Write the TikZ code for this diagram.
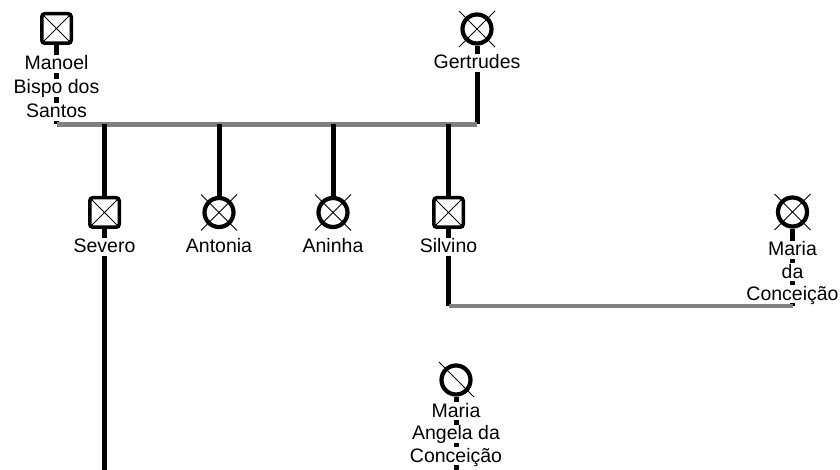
\documentclass[tikz,border=0pt]{standalone}
\usepackage{fontspec}
\setmainfont{Liberation Sans}
\usetikzlibrary{backgrounds}
\begin{document}
\begin{tikzpicture}[x=1pt,y=-1pt,
  kin/.style={line width=5pt, black},
  marr/.style={line width=4.6pt, color=gray},
  male/.style={draw, fill=white, line width=3.5pt, rounded corners=3pt, minimum size=29.5pt, inner sep=0pt,
    path picture={\draw[line width=1pt] (path picture bounding box.south west) -- (path picture bounding box.north east)
      (path picture bounding box.north west) -- (path picture bounding box.south east);}},
  female/.style={draw, fill=white, circle, line width=4.2pt, minimum size=29pt, inner sep=0pt},
  xline/.style={line width=1pt},
  lbl/.style={fill=white, anchor=base, inner xsep=1pt, inner ysep=0pt, text height=15pt, text depth=3pt,
    font=\fontsize{19.5pt}{24pt}\selectfont}
]
\useasboundingbox (0,0) rectangle (840,470);

% symbols
\node[male] (manoel) at (56.5,28.5) {};
\node[female] (gert) at (477,29) {};
\node[male] (severo) at (104.5,212.5) {};
\node[female] (antonia) at (219,212.5) {};
\node[female] (aninha) at (333,212.5) {};
\node[male] (silvino) at (448.5,212.5) {};
\node[female] (mdc) at (792.5,212) {};
\node[female] (mac) at (456,380) {};

% crosses on female symbols
\foreach \n in {gert,antonia,aninha,mdc}{
  \draw[xline] (\n.center) ++(-18,-18) -- ++(36,36);
  \draw[xline] (\n.center) ++(18,-18) -- ++(-36,36);
}
\draw[xline] (mac.center) ++(-17,-18) -- ++(35,35);

% labels
\node[lbl] (manoelA) at (56.5,70) {Manoel};
\node[lbl] (manoelB) at (56.5,94) {Bispo dos};
\node[lbl] (manoelC) at (56.5,118) {Santos};
\node[lbl] (gertA) at (477,69) {Gertrudes};
\node[lbl] (severoA) at (104.5,253) {Severo};
\node[lbl] (antoniaA) at (219,253) {Antonia};
\node[lbl] (aninhaA) at (333,253) {Aninha};
\node[lbl] (silvinoA) at (448.5,253) {Silvino};
\node[lbl] (mdcA) at (792.5,256) {Maria};
\node[lbl] (mdcB) at (792.5,278) {da};
\node[lbl] (mdcC) at (792.5,300) {Conceição};
\node[lbl] (macA) at (456,417) {Maria};
\node[lbl] (macB) at (456,439.5) {Angela da};
\node[lbl] (macC) at (456,462) {Conceição};

% junction coordinates
\coordinate (mg) at (56.5,124.5);
\coordinate (gg) at (477,124.5);
\coordinate (sm) at (448.5,306);
\coordinate (mm) at (792.5,306);
\coordinate (sevend) at (104.5,470);
\coordinate (macend) at (456,470);

\begin{scope}[on background layer]
  \draw[kin] (manoel.south) -- (mg);
  \draw[kin] (gert.south) -- (gg);
  \draw[marr] (mg) -- (gg);
  \draw[kin] (severo.north) -- (severo |- mg);
  \draw[kin] (antonia.north) -- (antonia |- mg);
  \draw[kin] (aninha.north) -- (aninha |- mg);
  \draw[kin] (silvino.north) -- (silvino |- mg);
  \draw[kin] (severo.south) -- (sevend);
  \draw[kin] (silvino.south) -- (sm);
  \draw[kin] (mdc.south) -- (mm);
  \draw[marr] (sm) -- (mm);
  \draw[kin] (mac.south) -- (macend);
\end{scope}
\end{tikzpicture}
\end{document}
